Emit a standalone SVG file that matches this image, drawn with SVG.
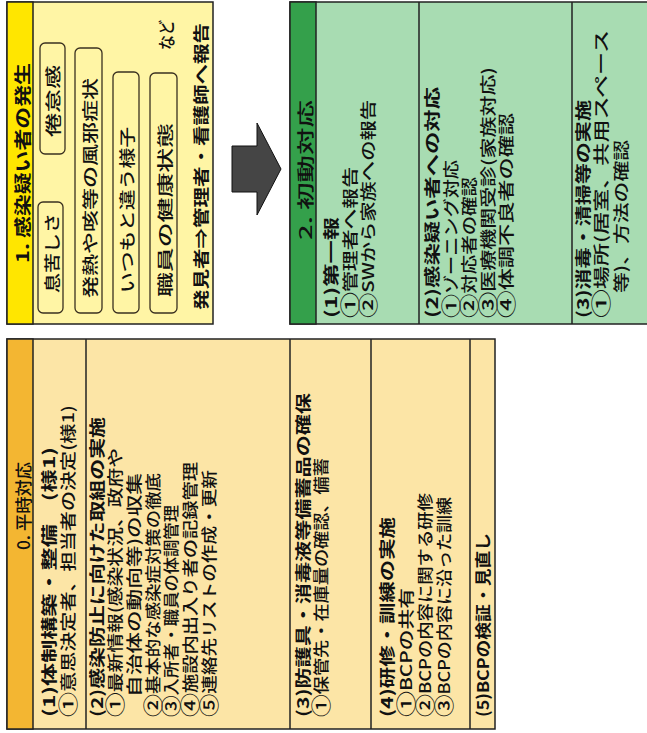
<svg xmlns="http://www.w3.org/2000/svg" width="647" height="733" viewBox="0 0 647 733">
<style>
.t{font-family:"Noto Sans CJK JP","Noto Sans",sans-serif;font-size:16px;font-weight:500;fill:#111;dominant-baseline:central}
.b{font-weight:bold}
.h{font-size:17px;font-weight:bold}
.c{font-size:20px}
.frame{stroke:#222;stroke-width:1.5}
.div{stroke:#222;stroke-width:1.5}
.pill{fill:#FFF5A5;stroke:#3a3020;stroke-width:1.3}
</style>
<rect width="647" height="733" fill="#ffffff"/>
<g id="node-1">
<rect class="frame" x="7" y="2" width="206" height="322" fill="#FFF5A5"/>
<rect class="frame" x="7" y="2" width="26" height="322" fill="#FFE600"/>
<text class="t h" transform="translate(21,263) rotate(-90)" textLength="200" lengthAdjust="spacingAndGlyphs">1. 感染疑い者の発生</text>
<rect class="pill" x="38" y="202" width="25" height="111" rx="5"/>
<text class="t" transform="translate(51,293) rotate(-90)" textLength="80" lengthAdjust="spacingAndGlyphs">息苦しさ</text>
<rect class="pill" x="40" y="43" width="25" height="111" rx="5"/>
<text class="t" transform="translate(52,137) rotate(-90)" textLength="72" lengthAdjust="spacingAndGlyphs">倦怠感</text>
<rect class="pill" x="75" y="48" width="27" height="265" rx="5"/>
<text class="t" transform="translate(89,298) rotate(-90)" textLength="220" lengthAdjust="spacingAndGlyphs">発熱や咳等の風邪症状</text>
<rect class="pill" x="113" y="72" width="26" height="241" rx="5"/>
<text class="t" transform="translate(126,293) rotate(-90)" textLength="166" lengthAdjust="spacingAndGlyphs">いつもと違う様子</text>
<rect class="pill" x="150" y="73" width="27" height="240" rx="5"/>
<text class="t" transform="translate(164,297) rotate(-90)" textLength="174" lengthAdjust="spacingAndGlyphs">職員の健康状態</text>
<text class="t" style="font-size:17px" transform="translate(165,50) rotate(-90)" textLength="30" lengthAdjust="spacingAndGlyphs">など</text>
<text class="t b" transform="translate(200,310) rotate(-90)" textLength="287" lengthAdjust="spacingAndGlyphs">発見者⇒管理者・看護師へ報告</text>
</g>
<g id="node-2">
<rect class="frame" x="290" y="2" width="362" height="322" fill="#A8DCB2"/>
<rect class="frame" x="290" y="2" width="26" height="322" fill="#34A04B"/>
<text class="t" style="font-size:17px" transform="translate(304,240) rotate(-90)" textLength="140" lengthAdjust="spacingAndGlyphs">2. 初動対応</text>
<text class="t b" transform="translate(330,318) rotate(-90)" textLength="101" lengthAdjust="spacingAndGlyphs">(1)第一報</text>
<text class="t" transform="translate(349,318) rotate(-90)" textLength="151" lengthAdjust="spacingAndGlyphs"><tspan class="c">①</tspan>管理者へ報告</text>
<text class="t" transform="translate(367,318) rotate(-90)" textLength="218" lengthAdjust="spacingAndGlyphs"><tspan class="c">②</tspan>SWから家族への報告</text>
<line class="div" x1="419" y1="2" x2="419" y2="324"/>
<text class="t b" transform="translate(431,318) rotate(-90)" textLength="231" lengthAdjust="spacingAndGlyphs">(2)感染疑い者への対応</text>
<text class="t" transform="translate(450,318) rotate(-90)" textLength="158" lengthAdjust="spacingAndGlyphs"><tspan class="c">①</tspan>ゾーニング対応</text>
<text class="t" transform="translate(468,318) rotate(-90)" textLength="141" lengthAdjust="spacingAndGlyphs"><tspan class="c">②</tspan>対応者の確認</text>
<text class="t" transform="translate(487,318) rotate(-90)" textLength="251" lengthAdjust="spacingAndGlyphs"><tspan class="c">③</tspan>医療機関受診(家族対応)</text>
<text class="t" transform="translate(505,318) rotate(-90)" textLength="205" lengthAdjust="spacingAndGlyphs"><tspan class="c">④</tspan>体調不良者の確認</text>
<line class="div" x1="572" y1="2" x2="572" y2="324"/>
<text class="t b" transform="translate(582,318) rotate(-90)" textLength="218" lengthAdjust="spacingAndGlyphs">(3)消毒・清掃等の実施</text>
<text class="t" transform="translate(600,318) rotate(-90)" textLength="288" lengthAdjust="spacingAndGlyphs"><tspan class="c">①</tspan>場所(居室、共用スペース</text>
<text class="t" transform="translate(620,293) rotate(-90)" textLength="153" lengthAdjust="spacingAndGlyphs">等)、方法の確認</text>
</g>
<g id="node-0">
<rect class="frame" x="7" y="339" width="488" height="390" fill="#FCE5A6"/>
<rect class="frame" x="7" y="339" width="26" height="390" fill="#F3B632"/>
<text class="t" style="font-size:17px" transform="translate(22,550) rotate(-90)" textLength="88" lengthAdjust="spacingAndGlyphs">0. 平時対応</text>
<text class="t b" transform="translate(48,717) rotate(-90)" textLength="270" lengthAdjust="spacingAndGlyphs">(1)体制構築・整備　(様1)</text>
<text class="t" transform="translate(67,717) rotate(-90)" textLength="312" lengthAdjust="spacingAndGlyphs"><tspan class="c">①</tspan>意思決定者、担当者の決定(様1)</text>
<line class="div" x1="86" y1="339" x2="86" y2="729"/>
<text class="t b" transform="translate(96,717) rotate(-90)" textLength="300" lengthAdjust="spacingAndGlyphs">(2)感染防止に向けた取組の実施</text>
<text class="t" transform="translate(114,717) rotate(-90)" textLength="269" lengthAdjust="spacingAndGlyphs"><tspan class="c">①</tspan>最新情報(感染状況、政府や</text>
<text class="t" transform="translate(133,697) rotate(-90)" textLength="224" lengthAdjust="spacingAndGlyphs">自治体の動向等)の収集</text>
<text class="t" transform="translate(152,717) rotate(-90)" textLength="244" lengthAdjust="spacingAndGlyphs"><tspan class="c">②</tspan>基本的な感染症対策の徹底</text>
<text class="t" transform="translate(170,717) rotate(-90)" textLength="212" lengthAdjust="spacingAndGlyphs"><tspan class="c">③</tspan>入所者・職員の体調管理</text>
<text class="t" transform="translate(189,717) rotate(-90)" textLength="255" lengthAdjust="spacingAndGlyphs"><tspan class="c">④</tspan>施設内出入り者の記録管理</text>
<text class="t" transform="translate(208,717) rotate(-90)" textLength="247" lengthAdjust="spacingAndGlyphs"><tspan class="c">⑤</tspan>連絡先リストの作成・更新</text>
<line class="div" x1="290" y1="339" x2="290" y2="729"/>
<text class="t b" transform="translate(302,717) rotate(-90)" textLength="324" lengthAdjust="spacingAndGlyphs">(3)防護具・消毒液等備蓄品の確保</text>
<text class="t" transform="translate(320,717) rotate(-90)" textLength="259" lengthAdjust="spacingAndGlyphs"><tspan class="c">①</tspan>保管先・在庫量の確認、備蓄</text>
<line class="div" x1="371" y1="339" x2="371" y2="729"/>
<text class="t b" transform="translate(386,717) rotate(-90)" textLength="200" lengthAdjust="spacingAndGlyphs">(4)研修・訓練の実施</text>
<text class="t" transform="translate(405,717) rotate(-90)" textLength="129" lengthAdjust="spacingAndGlyphs"><tspan class="c">①</tspan>BCPの共有</text>
<text class="t" transform="translate(424,717) rotate(-90)" textLength="224" lengthAdjust="spacingAndGlyphs"><tspan class="c">②</tspan>BCPの内容に関する研修</text>
<text class="t" transform="translate(443,717) rotate(-90)" textLength="220" lengthAdjust="spacingAndGlyphs"><tspan class="c">③</tspan>BCPの内容に沿った訓練</text>
<line class="div" x1="470" y1="339" x2="470" y2="729"/>
<text class="t b" transform="translate(482,717) rotate(-90)" textLength="184" lengthAdjust="spacingAndGlyphs">(5)BCPの検証・見直し</text>
</g>
<g id="connectors">
<polygon points="232,146 257,146 257,123 281,169 257,215 257,192 232,192" fill="#454545" stroke="#111" stroke-width="1"/>
</g>
</svg>
